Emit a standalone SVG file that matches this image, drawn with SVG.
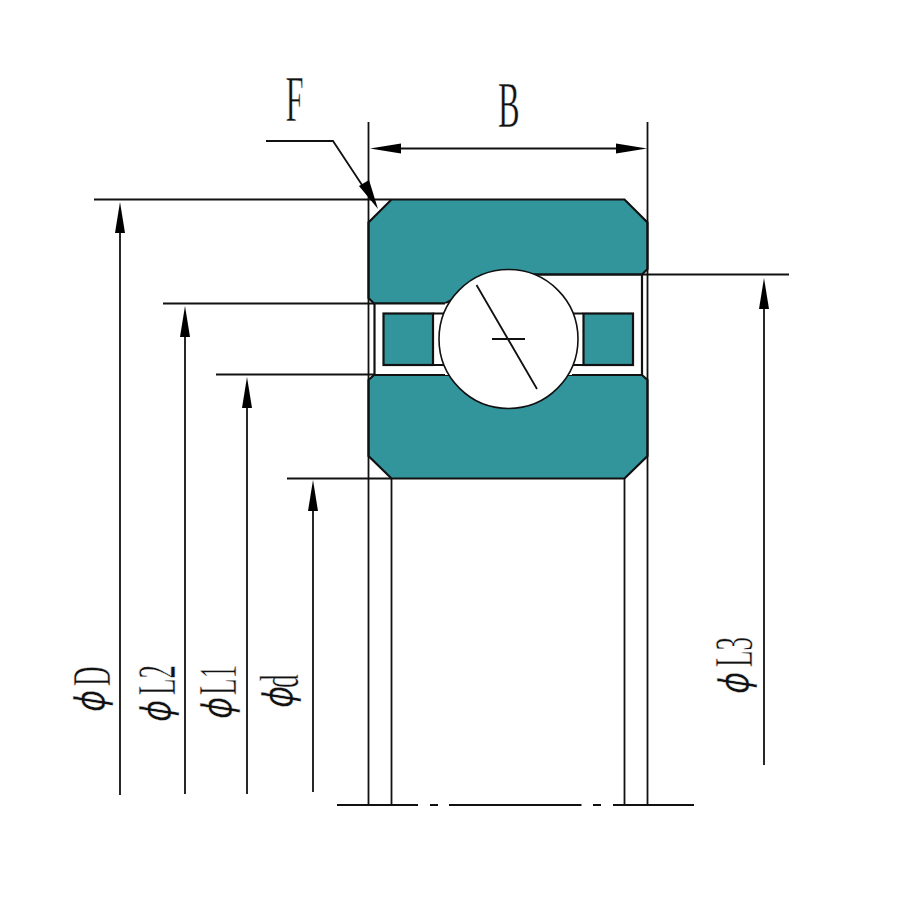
<svg xmlns="http://www.w3.org/2000/svg" width="900" height="900" viewBox="0 0 900 900">
<style>
.l{fill:none;stroke:#111;stroke-width:1.8}
.o{stroke:#111;stroke-width:2.200;stroke-linejoin:miter}
.g{fill:#33959c}
.w{fill:#fff}
.a{fill:#000;stroke:none}
text{font-family:"Liberation Serif","DejaVu Serif",serif;font-size:54px;fill:#111;stroke:#fff;stroke-width:.6px}
.p{font-family:"DejaVu Sans",sans-serif;font-style:italic;font-size:40px;stroke:#fff;stroke-width:.4px}
</style>
<defs>
<path id="up" class="a" d="M0 0L5 31L-5 31Z"/>
</defs>
<rect width="900" height="900" fill="#fff"/>
<g id="outer-ring">
<path class="g o" d="M391.500 199.500H624.500L647.500 222.500V269L642 274.500H500L445 303.500H374L368.500 298V222.500Z"/>
</g>
<g id="inner-ring">
<path class="g o" d="M374 375H642L647.500 380V456L624.500 478.500H391.500L368.500 456V380Z"/>
</g>
<g id="cage">
<rect class="w" x="374.500" y="303.500" width="267.500" height="71.500"/>
<path class="l" d="M374.500 303.500V375M642 274.500V375" style="stroke-width:2.200"/>
<path d="M445 303.500H374.500M445 375H374.500M572 375H642M530 274.500H642" class="l" style="stroke-width:2.200"/>
<rect class="g o" x="383.500" y="313.500" width="49.500" height="51.500"/>
<rect class="g o" x="583.500" y="313.500" width="49.500" height="51.500"/>
<path class="l" d="M433 313.500H450M433 365H450M566 313.500H583M566 365H583"/>
</g>
<g id="ball">
<circle cx="508.500" cy="339" r="69.500" fill="#fff" stroke="#111" stroke-width="1.600"/>
<path class="l" d="M476.500 285L537 389M492 339H525"/>
</g>
<g id="connectors">
<path class="l" d="M368.500 122V805M647.500 122V805M391.500 478.500V805M624.500 478.500V805"/>
<path class="l" d="M94 199.500H391M163 303.500H374M216 374.500H374M287 478.500H391M642 274.500H789"/>
<path class="l" d="M337 805H418M430 805H438M449 805H581.500M593 805H601M613 805H694" style="stroke-width:2"/>
<path class="l" d="M120 795V215M185 794V320M247 794V390M313 792V495M764 765V290M385 148.500H630M266 141H333L366 191"/>
<use href="#up" x="120" y="202"/>
<use href="#up" x="185" y="306"/>
<use href="#up" x="247" y="377"/>
<use href="#up" x="313" y="480"/>
<use href="#up" x="764" y="278"/>
<use href="#up" transform="translate(370 148.500) rotate(-90)"/>
<use href="#up" transform="translate(647 148.500) rotate(90)"/>
<path class="a" d="M378 209L359 186L369 180Z"/>
</g>
<g id="labels">
<text transform="translate(285.500 121) scale(.5 1)" style="font-size:65px">F</text>
<text transform="translate(498 127) scale(.5 1)" style="font-size:65px">B</text>
<text transform="translate(104 712) rotate(-90) scale(.85 1)"><tspan class="p">ϕ</tspan></text>
<text transform="translate(110 686) rotate(-90) scale(.5 1)">D</text>
<text transform="translate(170 722) rotate(-90) scale(.85 1)"><tspan class="p">ϕ</tspan></text>
<text transform="translate(175 695) rotate(-90) scale(.5 1)">L2</text>
<text transform="translate(231 719) rotate(-90) scale(.85 1)"><tspan class="p">ϕ</tspan></text>
<text transform="translate(236 695) rotate(-90) scale(.5 1)">L1</text>
<text transform="translate(292 708) rotate(-90) scale(.85 1)"><tspan class="p">ϕ</tspan></text>
<text transform="translate(298 688) rotate(-90) scale(.5 1)">d</text>
<text transform="translate(748 694) rotate(-90) scale(.85 1)"><tspan class="p">ϕ</tspan></text>
<text transform="translate(752 667) rotate(-90) scale(.5 1)">L3</text>
</g>
</svg>
